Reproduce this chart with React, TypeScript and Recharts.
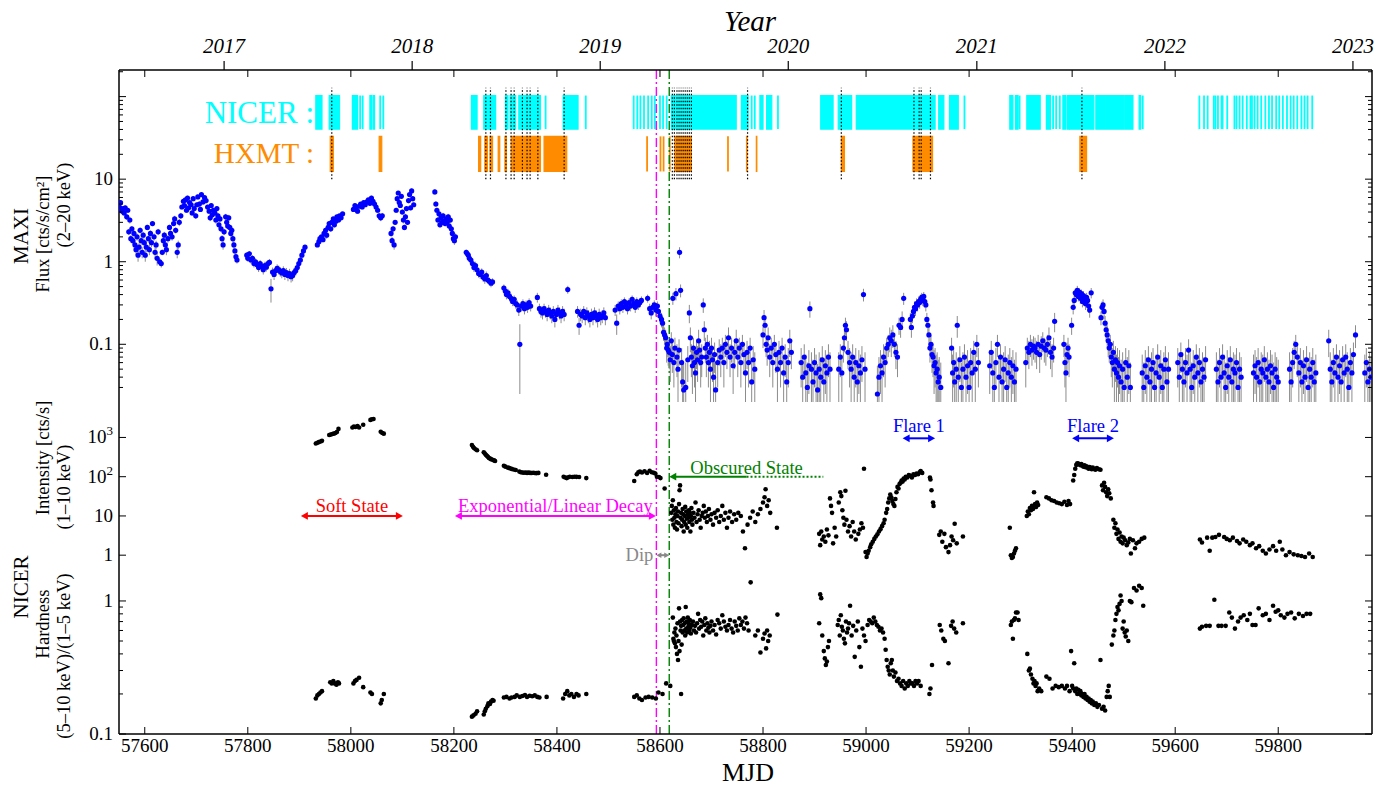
import React from "react";
import { ComposedChart, Scatter, XAxis, YAxis, ReferenceLine, ReferenceArea, ErrorBar } from "recharts";

const FONT = "'Liberation Serif', 'Times New Roman', serif";
const W = 1397;
const X_DOMAIN: [number, number] = [57550, 59982];
const MAGENTA = "#ff00ff";
const GREEN = "#008000";
const CYAN = "#00ffff";
const ORANGE = "#ff8c00";
const BLUE = "#0000ff";

// ---- axis ticks ----
const mjdTicks = [57600, 57800, 58000, 58200, 58400, 58600, 58800, 59000, 59200, 59400, 59600, 59800];
const yearMjd = [57754, 58119, 58484, 58849, 59215, 59580, 59945];
const yearNames = ["2017", "2018", "2019", "2020", "2021", "2022", "2023"];
const maxiTicks = [0.03, 0.04, 0.05, 0.06, 0.07, 0.08, 0.09, 0.1, 0.2, 0.3, 0.4, 0.5, 0.6, 0.7, 0.8, 0.9, 1, 2, 3, 4, 5, 6, 7, 8, 9, 10, 20, 30, 40, 50, 60, 70, 80, 90, 100, 200];
const maxiLabels: Record<string, string> = { "0.1": "0.1", "1": "1", "10": "10" };
const rateTicks = [1, 10, 100, 1000];
const hardTicks = [0.1, 0.2, 0.3, 0.4, 0.5, 0.6, 0.7, 0.8, 0.9, 1];
const hardLabels: Record<string, string> = { "0.1": "0.1", "1": "1" };

// ---- MAXI 2-20 keV flux [mjd, flux, err] ----
const maxiOutburst = [
  [57551,4.6,.3],[57553,5.2,.3],[57555,4.1,.3],[57558,4.4,.3],[57560,3.9,.3],[57562,4.5,.3],[57565,3.5,.3],[57567,4.2,.3],[57569,2.3,.2],[57571,3.2,.3],[57573,1.9,.2],[57575,2.5,.2],[57577,1.8,.2],[57579,2.2,.2],[57581,1.6,.2],[57583,1.4,.2],[57585,2.0,.2],[57587,1.2,.2],[57589,1.5,.2],[57591,2.4,.2],[57593,1.8,.2],[57595,1.3,.2],[57597,2.1,.2],[57599,1.7,.2],[57601,1.2,.2],[57603,1.5,.2],[57605,2.6,.2],[57607,1.9,.2],[57609,1.4,.2],[57611,2.2,.2],[57613,1.7,.2],[57615,2.9,.2],[57618,2.0,.2],[57620,1.3,.2],[57622,1.6,.2],[57624,1.1,.2],[57626,2.3,.2],[57629,1.0,.1],[57632,0.95,.1],[57634,1.3,.1],[57636,1.8,.2],[57638,2.1,.2],[57640,1.6,.2],[57642,1.4,.2],[57645,1.9,.2],[57648,2.6,.2],[57650,2.2,.2],[57653,2.0,.2],[57656,2.9,.2],[57658,3.3,.3],[57660,2.4,.2],[57663,1.3,.2],[57665,1.6,.2],[57667,3.0,.3],[57670,3.6,.3],[57672,4.6,.3],[57675,5.4,.4],[57677,4.8,.3],[57679,5.6,.4],[57681,4.2,.3],[57683,5.9,.4],[57685,4.5,.3],[57687,5.2,.4],[57690,4.9,.3],[57692,3.9,.3],[57694,5.8,.4],[57696,4.4,.3],[57699,3.6,.3],[57701,4.9,.3],[57703,6.1,.4],[57706,5.0,.4],[57708,4.3,.3],[57710,6.5,.4],[57713,5.3,.4],[57716,6.0,.4],[57719,5.5,.4],[57722,4.6,.3],[57725,4.1,.3],[57727,3.4,.3],[57729,4.8,.3],[57731,3.7,.3],[57733,4.2,.3],[57736,3.9,.3],[57738,3.2,.3],[57740,4.4,.3],[57742,3.6,.3],[57744,2.8,.2],[57746,3.3,.3],[57748,2.5,.2],[57750,1.9,.2],[57752,1.6,.2],[57754,2.3,.2],[57757,3.5,.3],[57759,3.0,.3],[57761,2.7,.2],[57763,3.4,.3],[57765,2.6,.2],[57767,2.2,.2],[57769,2.4,.2],[57771,1.9,.2],[57773,1.6,.2],[57775,1.35,.1],[57777,1.15,.1],[57779,1.05,.1],
  [57798,1.2,.1],[57800,1.1,.1],[57803,1.25,.1],[57806,1.05,.1],[57809,1.1,.1],[57812,0.95,.1],[57815,1.0,.1],[57818,0.92,.1],[57821,0.85,.1],[57824,0.95,.1],[57827,0.88,.1],[57830,0.8,.1],[57833,0.9,.1],[57836,0.86,.1],[57839,0.95,.1],[57842,0.98,.1],[57845,0.47,.15],[57848,0.75,.1],[57851,0.7,.1],[57854,0.78,.1],[57857,0.83,.1],[57860,0.8,.1],[57863,0.76,.1],[57866,0.73,.1],[57869,0.78,.1],[57872,0.7,.1],[57875,0.74,.1],[57878,0.68,.1],[57881,0.72,.1],[57884,0.66,.1],[57887,0.68,.1],[57890,0.74,.1],[57893,0.78,.1],[57896,0.85,.1],[57899,0.95,.1],[57902,1.05,.1],[57905,1.2,.1],[57908,1.35,.1],[57911,1.5,.1],
  [57935,1.6,.1],[57938,1.75,.1],[57940,1.9,.1],[57943,2.0,.1],[57946,1.85,.1],[57948,2.2,.2],[57951,2.4,.2],[57953,2.1,.2],[57956,2.6,.2],[57958,2.9,.2],[57961,2.5,.2],[57963,3.0,.2],[57966,3.3,.2],[57968,2.8,.2],[57971,3.1,.2],[57973,3.5,.2],[57976,3.2,.2],[57978,3.6,.2],[57981,3.4,.2],[57984,3.8,.2],
  [58005,4.3,.3],[58008,4.8,.3],[58010,4.5,.3],[58013,4.1,.3],[58016,4.7,.3],[58019,5.0,.3],[58022,4.6,.3],[58025,5.2,.3],[58028,4.9,.3],[58031,5.3,.3],[58034,5.6,.3],[58037,5.1,.3],[58040,5.9,.4],[58043,5.4,.3],[58046,5.0,.3],[58049,4.6,.3],[58052,4.2,.3],[58055,3.6,.3],[58058,3.4,.3],[58061,3.6,.3],
  [58078,2.2,.2],[58080,1.8,.2],[58082,2.5,.2],[58084,1.6,.2],[58086,3.0,.2],[58088,4.2,.3],[58090,5.8,.4],[58092,6.8,.4],[58094,5.2,.4],[58096,4.8,.3],[58098,6.2,.4],[58100,4.0,.3],[58102,3.2,.3],[58104,2.6,.2],[58106,3.5,.3],[58108,4.4,.3],[58110,3.0,.2],[58112,5.5,.4],[58114,6.5,.4],[58116,4.5,.3],[58118,7.2,.5],[58120,5.8,.4],[58122,4.9,.3],
  [58163,7.0,.5],[58165,5.0,.4],[58167,4.2,.3],[58169,3.2,.3],[58171,3.8,.3],[58173,2.8,.2],[58175,3.4,.3],[58177,3.0,.2],[58179,3.6,.3],[58181,3.1,.2],[58183,2.9,.2],[58185,3.3,.3],[58187,3.0,.2],[58189,3.5,.3],[58191,2.7,.2],[58193,3.2,.3],[58195,2.5,.2],[58197,2.2,.2],[58199,1.9,.2],[58201,1.8,.2],[58203,2.0,.2],
];
const maxiDecline = [
  [58224,1.3,.1],[58226,1.25,.1],[58228,1.2,.1],[58230,1.1,.1],[58233,1.05,.1],[58236,0.95,.1],[58239,0.85,.1],[58242,0.9,.1],[58245,0.8,.08],[58248,0.72,.08],[58251,0.7,.08],[58254,0.75,.08],[58257,0.65,.08],[58260,0.62,.08],[58263,0.68,.08],[58266,0.6,.06],[58269,0.58,.06],[58272,0.55,.06],[58275,0.57,.06],
  [58297,0.48,.05],[58300,0.44,.05],[58302,0.4,.05],[58305,0.42,.05],[58308,0.38,.05],[58311,0.36,.05],[58314,0.33,.04],[58317,0.35,.04],[58320,0.31,.04],[58323,0.3,.04],[58326,0.26,.04],[58328,0.1,.075],[58331,0.29,.04],[58334,0.31,.04],[58337,0.27,.04],[58340,0.3,.04],[58343,0.28,.04],[58346,0.32,.04],[58349,0.29,.04],
  [58362,0.37,.05],[58366,0.27,.04],[58369,0.25,.04],[58372,0.24,.04],[58375,0.27,.04],[58378,0.25,.04],[58381,0.23,.04],[58384,0.26,.04],[58387,0.24,.04],[58390,0.22,.04],[58393,0.25,.04],[58396,0.2,.04],[58399,0.23,.04],[58402,0.26,.04],[58405,0.24,.04],[58408,0.22,.04],[58411,0.25,.04],[58414,0.23,.04],[58421,0.46,.05],
  [58440,0.25,.04],[58443,0.17,.04],[58446,0.23,.04],[58449,0.22,.04],[58452,0.25,.04],[58455,0.21,.04],[58458,0.24,.04],[58461,0.22,.04],[58464,0.2,.04],[58467,0.23,.04],[58470,0.21,.04],[58473,0.24,.04],[58476,0.22,.04],[58479,0.2,.04],[58482,0.23,.04],[58485,0.21,.04],[58488,0.22,.04],[58491,0.24,.04],[58494,0.21,.04],
  [58513,0.26,.04],[58516,0.18,.05],[58519,0.29,.04],[58522,0.27,.04],[58525,0.31,.04],[58528,0.28,.04],[58531,0.33,.04],[58534,0.3,.04],[58537,0.27,.04],[58540,0.32,.04],[58543,0.29,.04],[58546,0.35,.04],[58549,0.31,.04],[58552,0.28,.04],[58555,0.33,.04],[58558,0.3,.04],[58561,0.32,.04],[58564,0.34,.04],
  [58576,0.36,.04],[58580,0.27,.04],[58583,0.24,.04],[58586,0.28,.04],[58589,0.3,.04],[58592,0.26,.04],[58595,0.29,.04],[58597,0.25,.04],[58600,0.22,.04],[58603,0.2,.04],[58605,0.18,.04],[58607,0.14,.03],[58609,0.13,.03],[58611,0.12,.03],[58613,0.09,.03],
];
const maxiObscured = [
  [58614,0.1,.03],[58616,0.085,.03],[58618,0.08,.03],[58620,0.065,.03],[58622,0.11,.03],[58624,0.075,.03],[58625,0.36,.06],[58627,0.06,.03],[58629,0.09,.03],[58631,0.41,.07],[58633,0.07,.03],[58635,0.05,.03],[58637,0.085,.03],[58638,1.3,.2],[58640,0.45,.08],[58642,0.06,.03],[58644,0.035,.03],[58646,0.028,.03],[58650,0.03,.03],[58654,0.065,.03],[58657,0.24,.06],[58659,0.12,.04],[58661,0.07,.03],[58663,0.055,.03],[58665,0.09,.03],[58667,0.06,.03],[58669,0.045,.03],[58671,0.08,.03],[58673,0.065,.03],[58675,0.11,.04],[58677,0.085,.03],[58679,0.06,.03],[58681,0.07,.03],[58684,0.3,.06],[58686,0.15,.04],[58688,0.09,.03],[58690,0.07,.03],[58692,0.1,.03],[58694,0.06,.03],[58696,0.08,.03],[58698,0.05,.03],[58700,0.09,.03],[58702,0.065,.03],[58704,0.04,.03],[58706,0.075,.03],[58708,0.028,.03],[58712,0.06,.03],[58715,0.085,.03],[58718,0.07,.03],[58721,0.09,.03],[58724,0.06,.03],[58727,0.1,.03],[58730,0.08,.03],[58733,0.12,.04],[58736,0.07,.03],[58739,0.09,.03],[58742,0.055,.03],[58745,0.08,.03],[58748,0.11,.04],[58751,0.07,.03],[58754,0.09,.03],[58757,0.06,.03],[58760,0.1,.03],[58763,0.075,.03],[58766,0.045,.03],[58769,0.08,.03],[58772,0.06,.03],[58775,0.09,.03],[58778,0.035,.03],[58781,0.065,.03],[58784,0.05,.03],
  [58800,0.13,.04],[58802,0.21,.05],[58804,0.17,.04],[58806,0.1,.03],[58808,0.085,.03],[58810,0.12,.04],[58813,0.07,.03],[58816,0.09,.03],[58819,0.06,.03],[58822,0.1,.03],[58825,0.075,.03],[58828,0.05,.03],[58831,0.08,.03],[58834,0.06,.03],[58837,0.09,.03],[58840,0.045,.03],[58843,0.07,.03],[58846,0.035,.03],[58849,0.06,.03],[58852,0.11,.04],[58855,0.08,.03],
  [58874,0.06,.03],[58877,0.04,.03],[58880,0.07,.03],[58883,0.045,.03],[58886,0.03,.03],[58889,0.055,.03],[58891,0.27,.06],[58894,0.05,.03],[58897,0.035,.03],[58900,0.06,.03],[58903,0.045,.03],[58906,0.028,.03],[58909,0.05,.03],[58912,0.04,.03],[58915,0.065,.03],[58918,0.035,.03],[58921,0.055,.03],[58924,0.045,.03],[58927,0.07,.03],[58930,0.05,.03],
  [58947,0.05,.03],[58950,0.07,.03],[58953,0.045,.03],[58956,0.09,.03],[58958,0.12,.04],[58960,0.17,.04],[58962,0.15,.04],[58965,0.08,.03],[58968,0.06,.03],[58971,0.05,.03],[58974,0.07,.03],[58977,0.04,.03],[58980,0.06,.03],[58983,0.035,.03],[58986,0.055,.03],[58989,0.045,.03],[58992,0.065,.03],[58995,0.4,.07],[58998,0.05,.03],
];
const maxiFlares = [
  [59022,0.025,.03],[59025,0.04,.03],[59028,0.055,.03],[59031,0.045,.03],[59034,0.07,.03],[59037,0.06,.03],[59040,0.09,.03],[59043,0.1,.03],[59046,0.12,.04],[59049,0.11,.04],[59052,0.13,.04],[59055,0.1,.03],[59058,0.08,.03],[59061,0.07,.03],[59064,0.17,.04],[59067,0.16,.04],[59070,0.2,.05],[59073,0.36,.06],
  [59086,0.2,.04],[59088,0.16,.04],[59090,0.22,.04],[59092,0.25,.04],[59094,0.28,.05],[59096,0.27,.05],[59098,0.31,.05],[59100,0.3,.05],[59102,0.33,.05],[59104,0.32,.05],[59106,0.35,.05],[59108,0.37,.05],[59110,0.34,.05],[59112,0.38,.05],[59114,0.33,.05],[59116,0.3,.05],[59118,0.2,.04],[59120,0.17,.04],[59122,0.13,.04],[59124,0.09,.03],[59126,0.1,.03],[59128,0.075,.03],[59130,0.07,.03],[59132,0.055,.03],[59134,0.06,.03],[59136,0.045,.03],[59138,0.05,.03],[59140,0.035,.03],[59142,0.04,.03],[59145,0.03,.03],
  [59166,0.09,.03],[59168,0.045,.03],[59170,0.06,.03],[59172,0.035,.03],[59175,0.05,.03],[59177,0.17,.05],[59179,0.04,.03],[59182,0.065,.03],[59185,0.03,.03],[59188,0.05,.03],[59191,0.07,.03],[59194,0.04,.03],[59197,0.055,.03],[59200,0.03,.03],[59203,0.06,.03],[59206,0.045,.03],[59209,0.08,.03],[59212,0.05,.03],[59215,0.1,.03],[59218,0.06,.03],
  [59240,0.055,.03],[59243,0.08,.03],[59246,0.045,.03],[59249,0.03,.03],[59252,0.06,.03],[59255,0.1,.03],[59258,0.04,.03],[59261,0.07,.03],[59264,0.035,.03],[59267,0.05,.03],[59270,0.065,.03],[59273,0.03,.03],[59276,0.045,.03],[59279,0.06,.03],[59282,0.04,.03],[59285,0.055,.03],[59288,0.035,.03],[59291,0.05,.03],
  [59310,0.06,.03],[59313,0.09,.03],[59316,0.08,.03],[59319,0.1,.03],[59322,0.085,.03],[59325,0.095,.03],[59328,0.09,.03],[59331,0.08,.03],[59334,0.1,.03],[59337,0.075,.03],[59340,0.095,.03],[59343,0.11,.03],[59346,0.09,.03],[59349,0.085,.03],[59352,0.1,.03],[59355,0.12,.04],[59358,0.08,.03],[59361,0.07,.03],[59364,0.09,.03],[59366,0.19,.05],
  [59384,0.1,.03],[59386,0.06,.03],[59388,0.045,.03],[59390,0.075,.03],[59392,0.09,.03],[59394,0.07,.03],[59399,0.17,.04],[59402,0.28,.05],[59404,0.34,.05],[59406,0.42,.05],[59408,0.4,.05],[59410,0.45,.06],[59412,0.38,.05],[59414,0.43,.05],[59416,0.36,.05],[59418,0.41,.05],[59420,0.33,.05],[59422,0.39,.05],[59424,0.35,.05],[59426,0.31,.05],[59428,0.37,.05],[59430,0.34,.05],[59432,0.29,.05],[59434,0.26,.05],[59437,0.42,.06],
  [59456,0.21,.04],[59458,0.28,.05],[59460,0.3,.05],[59462,0.25,.05],[59464,0.18,.04],[59466,0.15,.04],[59468,0.13,.04],[59470,0.11,.04],[59472,0.09,.03],[59474,0.1,.03],[59476,0.07,.03],[59478,0.06,.03],[59480,0.08,.03],[59482,0.05,.03],[59484,0.065,.03],[59486,0.045,.03],[59488,0.06,.03],[59490,0.04,.03],[59492,0.055,.03],[59495,0.035,.03],[59498,0.05,.03],[59501,0.03,.03],[59504,0.06,.03],[59507,0.04,.03],[59510,0.055,.03],[59513,0.03,.03],
];
const maxiLate = [
  [59536,0.045,.03],[59539,0.03,.03],[59542,0.055,.03],[59545,0.04,.03],[59548,0.065,.03],[59551,0.035,.03],[59554,0.05,.03],[59557,0.06,.03],[59560,0.03,.03],[59563,0.045,.03],[59566,0.07,.03],[59569,0.04,.03],[59572,0.055,.03],[59575,0.03,.03],[59578,0.05,.03],[59581,0.065,.03],[59584,0.035,.03],[59587,0.05,.03],
  [59605,0.06,.03],[59608,0.04,.03],[59611,0.075,.03],[59614,0.05,.03],[59617,0.035,.03],[59620,0.06,.03],[59623,0.045,.03],[59626,0.085,.03],[59629,0.05,.03],[59632,0.03,.03],[59635,0.055,.03],[59638,0.04,.03],[59641,0.07,.03],[59644,0.045,.03],[59647,0.06,.03],[59650,0.035,.03],[59653,0.05,.03],[59656,0.04,.03],[59659,0.065,.03],
  [59680,0.05,.03],[59683,0.035,.03],[59686,0.06,.03],[59689,0.04,.03],[59692,0.07,.03],[59695,0.045,.03],[59698,0.03,.03],[59701,0.055,.03],[59704,0.04,.03],[59707,0.065,.03],[59710,0.035,.03],[59713,0.05,.03],[59716,0.045,.03],[59719,0.06,.03],[59722,0.03,.03],[59725,0.05,.03],[59728,0.04,.03],
  [59752,0.045,.03],[59755,0.055,.03],[59758,0.04,.03],[59761,0.06,.03],[59764,0.035,.03],[59767,0.05,.03],[59770,0.045,.03],[59773,0.065,.03],[59776,0.04,.03],[59779,0.05,.03],[59782,0.035,.03],[59785,0.055,.03],[59788,0.045,.03],[59791,0.03,.03],[59794,0.05,.03],[59797,0.04,.03],[59800,0.035,.03],
  [59822,0.05,.03],[59825,0.035,.03],[59828,0.06,.03],[59831,0.08,.03],[59834,0.1,.03],[59837,0.07,.03],[59840,0.045,.03],[59843,0.06,.03],[59846,0.035,.03],[59849,0.055,.03],[59852,0.04,.03],[59855,0.065,.03],[59858,0.03,.03],[59861,0.05,.03],[59864,0.04,.03],[59867,0.06,.03],[59870,0.035,.03],[59873,0.045,.03],
  [59898,0.11,.04],[59901,0.05,.03],[59904,0.035,.03],[59907,0.06,.03],[59910,0.045,.03],[59913,0.07,.03],[59916,0.04,.03],[59919,0.055,.03],[59922,0.035,.03],[59925,0.065,.03],[59928,0.045,.03],[59931,0.07,.03],[59934,0.05,.03],[59937,0.03,.03],[59940,0.06,.03],[59943,0.045,.03],[59946,0.075,.03],[59950,0.13,.04],
  [59968,0.045,.03],[59971,0.06,.03],[59974,0.035,.03],[59977,0.05,.03],[59980,0.04,.03],
];

// ---- NICER 1-10 keV rate [mjd, cts/s] ----
const rateSoft = [[57932,700],[57935,730],[57938,760],[57941,790],[57944,820],[57958,1150],[57961,1180],[57964,1220],[57967,1250],[57970,1300],[57973,1380],[57976,1650],[58003,1800],[58006,1900],[58009,1850],[58013,1950],[58016,1800],[58024,2100],[58038,2800],[58041,2900],[58044,2950],[58058,1400],[58061,1300],[58064,1250]];
const rateDecay = [[58235,640],[58237,580],[58239,540],[58242,500],[58245,470],[58258,420],[58260,390],[58262,360],[58264,340],[58266,320],[58268,300],[58270,290],[58272,280],[58275,270],[58278,260],[58280,250],[58297,190],[58300,180],[58305,170],[58308,165],[58312,158],[58316,152],[58320,148],[58327,135],[58330,130],[58333,128],[58336,126],[58339,128],[58342,125],[58345,127],[58348,125],[58351,124],[58354,126],[58357,124],[58360,123],[58364,125],[58379,112],[58413,100],[58416,95],[58419,92],[58422,97],[58425,100],[58430,98],[58434,100],[58438,99],[58443,98],[58457,92],[58550,78],[58555,115],[58558,130],[58561,135],[58565,128],[58570,138],[58575,125],[58580,142],[58584,130],[58588,126],[58591,120],[58594,100],[58598,98],[58601,92],[58609,50]];
const rateObscured = [[58622,12],[58623,18],[58624,8],[58625,25],[58626,6],[58627,14],[58628,9],[58629,5],[58630,11],[58631,16],[58632,7],[58633,4.5],[58634,10],[58635,13],[58636,6.5],[58637,20],[58638,45],[58639,60],[58640,9],[58641,12],[58642,5.5],[58643,8],[58644,15],[58645,11],[58646,4],[58647,7],[58648,10],[58649,17],[58650,6],[58651,13],[58652,8.5],[58653,5],[58654,11],[58655,9],[58656,14],[58657,7],[58658,12],[58659,4],[58660,10],[58661,16],[58662,8],[58663,6],[58665,12],[58667,9],[58669,22],[58671,7],[58673,11],[58675,14],[58677,8],[58679,5],[58681,10],[58683,12],[58685,18],[58687,9],[58689,13],[58691,7],[58693,10],[58695,15],[58698,8],[58700,11],[58703,6],[58706,12],[58709,9],[58712,14],[58715,7],[58718,10],[58721,18],[58724,8],[58727,12],[58730,5],[58733,9],[58736,13],[58740,7],[58744,11],[58748,8],[58752,12],[58757,10],[58761,4],[58765,1.5],[58770,6],[58775,9],[58780,13],[58785,7],[58790,11],[58795,15],[58800,22],[58803,30],[58805,48],[58808,18],[58811,25],[58814,12],[58827,5],
  [58909,3.5],[58911,1.8],[58913,4],[58915,2.5],[58918,3],[58921,2.2],[58924,4.5],[58927,3.2],[58930,28],[58932,18],[58934,12],[58936,2],[58939,5],[58942,3],[58947,22],[58950,40],[58952,32],[58954,14],[58956,9],[58958,6],[58960,44],[58962,8],[58965,4],[58968,5.5],[58971,3],[58974,7],[58977,4],[58980,2.5],[58985,3.5],[58988,4.5],[58991,6.5],[58994,5],[58996,160],[58999,1.2],[59001,0.9],[59003,1.1]];
const rateFlares = [[59005,1.3],[59008,1.6],[59010,1.9],[59013,2.2],[59016,2.6],[59019,3],[59022,3.4],[59025,4],[59028,4.6],[59031,5.5],[59034,6.5],[59036,8],[59039,12],[59041,15],[59043,22],[59045,28],[59047,35],[59049,30],[59051,24],[59053,20],[59055,18],[59057,27],[59059,40],[59061,55],[59063,50],[59065,65],[59067,70],[59069,80],[59071,75],[59073,90],[59075,85],[59077,100],[59080,95],[59083,110],[59086,105],[59089,95],[59092,115],[59095,110],[59098,120],[59101,115],[59104,130],[59106,140],[59109,125],[59124,95],[59125,85],[59127,45],[59130,22],[59131,18],
  [59142,3.3],[59145,4],[59148,2.2],[59152,3.5],[59155,1.6],[59160,1.2],[59163,1.8],[59166,3],[59169,2.4],[59172,6.3],[59176,2],[59188,3],
  [59279,5],[59281,1],[59283,0.85],[59285,0.9],[59287,1.1],[59289,1.3],[59291,1.5],[59312,10],[59314,13],[59316,11],[59318,16],[59320,14],[59322,18],[59324,15],[59326,40],[59328,20],[59330,17],[59332,22],[59334,19],[59350,30],[59355,28],[59360,25],[59365,24],[59370,22],[59375,21],[59380,20],[59385,23],[59390,19],[59393,24],[59396,20],[59402,80],[59404,110],[59406,160],[59408,200],[59410,220],[59412,215],[59414,205],[59416,195],[59418,210],[59420,190],[59422,180],[59424,195],[59426,175],[59428,185],[59430,170],[59432,160],[59434,175],[59436,165],[59438,155],[59440,170],[59442,160],[59445,150],[59448,165],[59452,155],[59455,150],[59458,60],[59460,45],[59462,70],[59464,55],[59466,40],[59468,32],[59470,48],[59472,38],[59475,28],
  [59480,8],[59482,5],[59484,6.5],[59486,3.5],[59488,4.5],[59490,2.6],[59492,3.8],[59494,2.2],[59496,3],[59498,2],[59500,2.8],[59503,2.4],[59506,1.8],[59509,2.1],[59512,2.6],[59514,1.1],[59518,2.4],[59522,1.5],[59525,2],[59530,2.2],[59535,2.6],[59540,2.8]];
const rateLate = [[59648,2.5],[59652,2.1],[59662,2.8],[59667,1.3],[59672,2.8],[59678,2.9],[59685,3.3],[59695,2.9],[59700,2.6],[59706,2.4],[59712,2.8],[59720,2.3],[59725,2.0],[59732,2.5],[59738,2.2],[59745,1.8],[59750,2.0],[59757,1.5],[59763,1.7],[59770,1.3],[59776,1.1],[59783,1.4],[59790,1.7],[59796,1.3],[59803,2.2],[59808,1.4],[59815,1.0],[59822,1.2],[59830,1.05],[59838,1.0],[59845,0.95],[59852,0.9],[59860,1.1],[59867,0.9]];

// ---- NICER hardness (5-10 keV)/(1-5 keV) [mjd, ratio] ----
const hardSoft = [[57932,0.185],[57935,0.195],[57938,0.2],[57941,0.205],[57944,0.21],[57960,0.245],[57963,0.24],[57966,0.25],[57969,0.24],[57972,0.235],[57975,0.245],[57977,0.24],[58005,0.24],[58008,0.25],[58011,0.255],[58016,0.265],[58024,0.225],[58038,0.205],[58041,0.2],[58058,0.17],[58060,0.18],[58064,0.2],
  [58235,0.135],[58238,0.138],[58242,0.142],[58245,0.148],[58258,0.14],[58260,0.148],[58262,0.155],[58265,0.162],[58267,0.17],[58270,0.168],[58272,0.175],[58275,0.18],[58277,0.178],[58297,0.188],[58302,0.19],[58308,0.185],[58312,0.188],[58318,0.19],[58322,0.195],[58328,0.19],[58333,0.193],[58338,0.196],[58342,0.19],[58347,0.194],[58352,0.192],[58357,0.195],[58362,0.19],[58366,0.188],[58380,0.19],[58412,0.185],[58416,0.2],[58420,0.21],[58424,0.195],[58428,0.2],[58433,0.19],[58438,0.2],[58442,0.195],[58457,0.2],
  [58550,0.19],[58555,0.195],[58560,0.185],[58565,0.18],[58572,0.188],[58578,0.19],[58585,0.188],[58592,0.185],[58597,0.205],[58605,0.2],[58612,0.24],[58620,0.23],[58641,0.2]];
const hardObscured = [[58625,0.75],[58626,0.52],[58627,0.5],[58628,0.58],[58629,0.48],[58630,0.62],[58631,0.45],[58632,0.55],[58633,0.4],[58634,0.68],[58635,0.36],[58636,0.5],[58637,0.88],[58638,0.42],[58639,0.7],[58640,0.6],[58641,0.65],[58642,0.47],[58643,0.72],[58644,0.58],[58645,0.66],[58646,0.74],[58647,0.6],[58648,0.68],[58649,0.55],[58650,0.9],[58651,0.62],[58652,0.7],[58653,0.58],[58654,0.75],[58655,0.64],[58656,0.68],[58657,0.6],[58658,0.72],[58659,0.63],[58660,0.57],[58662,0.66],[58664,0.7],[58666,0.6],[58668,0.65],[58670,0.58],[58672,0.68],[58674,0.8],[58676,0.62],[58678,0.72],[58680,0.64],[58682,0.7],[58684,0.55],[58686,0.66],[58688,0.74],[58690,0.6],[58692,0.68],[58694,0.63],[58696,0.58],[58698,0.65],[58700,0.7],[58703,0.6],[58706,0.66],[58709,0.56],[58712,0.72],[58715,0.68],[58718,0.62],[58721,0.78],[58724,0.7],[58727,0.64],[58730,0.6],[58733,0.66],[58736,0.72],[58739,0.62],[58742,0.58],[58745,0.7],[58748,0.65],[58751,0.6],[58754,0.74],[58757,0.66],[58760,0.7],[58763,0.62],[58766,0.75],[58769,0.68],[58772,0.6],[58776,1.38],[58785,0.55],[58790,0.6],[58795,0.41],[58800,0.52],[58803,0.57],[58806,0.44],[58808,0.6],[58810,0.5],[58813,0.55],[58828,0.79],
  [58909,0.68],[58911,1.12],[58913,1.05],[58915,0.55],[58918,0.42],[58920,0.37],[58922,0.33],[58924,0.35],[58926,0.45],[58928,0.5],[58945,0.66],[58947,0.72],[58949,0.55],[58951,0.78],[58953,0.64],[58955,0.6],[58957,0.52],[58959,0.48],[58961,0.7],[58963,0.58],[58965,0.62],[58967,0.68],[58969,0.92],[58972,0.55],[58975,0.65],[58978,0.38],[58981,0.6],[58984,0.7],[58987,0.45],[58990,0.32],[58993,0.62],[58996,0.55],[58999,0.5]];
const hardFlares = [[59003,0.66],[59006,0.72],[59009,0.7],[59012,0.68],[59015,0.75],[59018,0.7],[59021,0.66],[59024,0.64],[59027,0.6],[59030,0.62],[59033,0.58],[59036,0.52],[59038,0.43],[59040,0.36],[59042,0.32],[59044,0.3],[59046,0.28],[59048,0.34],[59050,0.36],[59052,0.3],[59054,0.27],[59057,0.29],[59060,0.25],[59063,0.26],[59066,0.24],[59069,0.23],[59072,0.25],[59075,0.22],[59078,0.24],[59081,0.23],[59084,0.25],[59087,0.24],[59090,0.24],[59093,0.23],[59096,0.25],[59099,0.24],[59102,0.25],[59106,0.23],[59123,0.2],[59125,0.22],[59128,0.33],[59143,0.66],[59146,0.6],[59150,0.52],[59153,0.5],[59160,0.34],[59165,0.65],[59168,0.7],[59171,0.62],[59175,0.58],[59188,0.68],
  [59281,0.66],[59283,0.7],[59285,0.52],[59287,0.72],[59289,0.74],[59291,0.82],[59294,0.82],[59296,0.72],[59313,0.4],[59316,0.3],[59318,0.31],[59320,0.28],[59323,0.26],[59325,0.24],[59327,0.25],[59329,0.23],[59331,0.24],[59333,0.21],[59336,0.22],[59340,0.21],[59350,0.27],[59356,0.26],[59362,0.22],[59368,0.23],[59374,0.225],[59380,0.23],[59386,0.22],[59390,0.23],[59395,0.21],[59398,0.42],[59400,0.23],[59402,0.22],[59404,0.34],[59406,0.21],[59408,0.22],[59410,0.2],[59412,0.215],[59414,0.2],[59416,0.21],[59418,0.195],[59420,0.2],[59422,0.19],[59424,0.2],[59426,0.185],[59428,0.19],[59430,0.18],[59432,0.185],[59434,0.175],[59436,0.18],[59438,0.17],[59440,0.175],[59443,0.165],[59446,0.17],[59449,0.16],[59452,0.165],[59455,0.36],[59458,0.155],[59461,0.16],[59464,0.15],[59467,0.19],[59469,0.21],[59471,0.23],[59473,0.19],[59477,0.47],[59480,0.55],[59482,0.6],[59484,0.72],[59486,0.8],[59488,0.9],[59490,0.85],[59492,0.95],[59494,1.1],[59496,1.0],[59498,0.62],[59500,0.7],[59502,0.58],[59504,0.54],[59506,0.6],[59509,0.5],[59512,1.0],[59515,0.98],[59520,1.25],[59525,1.2],[59530,1.3],[59535,1.25],[59538,0.92]];
const hardLate = [[59648,0.62],[59652,0.64],[59660,0.65],[59667,0.65],[59676,1.02],[59684,0.65],[59690,0.65],[59698,0.65],[59705,0.82],[59710,0.75],[59716,0.62],[59722,0.7],[59727,0.75],[59733,0.78],[59740,0.72],[59745,0.8],[59750,0.66],[59756,0.66],[59762,0.88],[59770,0.78],[59776,0.8],[59783,0.72],[59790,0.92],[59795,0.83],[59800,0.85],[59805,0.78],[59812,0.75],[59818,0.8],[59825,0.82],[59832,0.74],[59840,0.8],[59848,0.77],[59855,0.8],[59862,0.8]];

// ---- observation windows [start, end] (MJD) ----
const nicerObs = [[57932,57944],[57958,57978],[58003,58013],[58018,58018],[58023,58023],[58037,58040],[58043,58046],[58057,58057],[58063,58063],
  [58234,58245],[58258,58281],[58300,58305],[58309,58320],[58326,58368],[58378,58378],[58412,58441],[58456,58456],
  [58549,58549],[58556,58556],[58562,58562],[58569,58569],[58577,58577],[58584,58584],[58590,58590],[58600,58600],[58606,58606],[58613,58613],
  [58622,58748],[58758,58771],[58778,58778],[58784,58784],[58794,58800],[58807,58817],[58829,58829],
  [58912,58936],[58946,58972],[58981,59134],[59141,59151],[59162,59179],[59191,59191],
  [59279,59285],[59290,59295],[59298,59298],[59312,59323],[59325,59338],[59350,59358],[59363,59363],[59369,59369],[59376,59376],[59382,59387],[59390,59394],[59395,59442],[59446,59463],[59465,59500],[59502,59518],[59530,59533],[59537,59537],
  [59647,59647],[59656,59656],[59663,59663],[59675,59675],[59678,59678],[59683,59683],[59690,59690],[59692,59692],[59701,59701],[59715,59715],[59719,59719],[59725,59725],[59731,59731],[59739,59739],[59746,59746],[59749,59749],[59754,59754],[59760,59760],[59767,59767],[59775,59775],[59782,59782],[59788,59788],[59796,59796],[59802,59802],[59809,59809],[59817,59817],[59824,59824],[59830,59830],[59837,59837],[59845,59845],[59851,59851],[59857,59857],[59866,59866]];
const hxmtObs = [[57960,57966],[58055,58060],[58248,58252],[58260,58265],[58270,58275],[58286,58289],[58299,58302],[58311,58368],[58375,58419],[58575,58575],[58601,58601],[58607,58607],[58619,58619],[58629,58661],[58732,58732],[58768,58769],[58787,58788],[58952,58958],[59091,59129],[59415,59428]];
const jointObs = [57963, 58262, 58271, 58301, 58311, 58317, 58333, 58342, 58348, 58363, 58414, 58624, 58628, 58633, 58637, 58641, 58645, 58649, 58653, 58657, 58661, 58770, 58952, 59093, 59103, 59107, 59125, 59419];

// state boundaries
const dipStart = 58593;
const obscuredStart = 58618;

type Pt = { x: number; y: number; e?: [number, number] };
const toPts = (rows: number[][]): Pt[] => rows.map((r) => ({ x: r[0], y: r[1] }));
const toErrPts = (rows: number[][], floor: number): Pt[] =>
  rows.map((r) => ({ x: r[0], y: r[1], e: [Math.min(r[2], r[1] - floor), r[2]] }));

const maxiPts = toErrPts([...maxiOutburst, ...maxiDecline, ...maxiObscured, ...maxiFlares, ...maxiLate], 0.02);
const ratePts = toPts([...rateSoft, ...rateDecay, ...rateObscured, ...rateFlares, ...rateLate]);
const hardPts = toPts([...hardSoft, ...hardObscured, ...hardFlares, ...hardLate]);

const isMajor = (v: number) => Math.abs(Math.log10(v) - Math.round(Math.log10(v))) < 1e-6;

// ---- ticks ----
const bottomTick = (withLabels: boolean) => (p: any) => {
  const { x, y, payload } = p;
  return (
    <g>
      <line x1={x} x2={x} y1={y} y2={y - 7} stroke="#000" strokeWidth={1} />
      {withLabels && (
        <text x={x} y={y + 18} textAnchor="middle" fontFamily={FONT} fontSize={19} fill="#000">
          {payload.value}
        </text>
      )}
    </g>
  );
};
const topTick = (withYears: boolean) => (p: any) => {
  const { x, y, payload } = p;
  const yi = withYears ? yearMjd.indexOf(payload.value) : -1;
  if (yi >= 0) {
    return (
      <g>
        <line x1={x} x2={x} y1={y} y2={y - 9} stroke="#000" strokeWidth={1.2} />
        <text x={x} y={y - 17} textAnchor="middle" fontFamily={FONT} fontStyle="italic" fontSize={21} fill="#000">
          {yearNames[yi]}
        </text>
      </g>
    );
  }
  return <line x1={x} x2={x} y1={y} y2={y + 7} stroke="#000" strokeWidth={1} />;
};
const leftTick = (labels: Record<string, React.ReactNode>) => (p: any) => {
  const { x, y, payload } = p;
  const v = payload.value;
  const major = isMajor(v);
  const lab = labels[String(v)];
  return (
    <g>
      <line x1={x} x2={x + (major ? 7 : 4)} y1={y} y2={y} stroke="#000" strokeWidth={1} />
      {lab && (
        <text x={x - 6} y={y + 6} textAnchor="end" fontFamily={FONT} fontSize={19} fill="#000">
          {lab}
        </text>
      )}
    </g>
  );
};
const rightTick = (p: any) => {
  const { x, y, payload } = p;
  return <line x1={x} x2={x - (isMajor(payload.value) ? 7 : 4)} y1={y} y2={y} stroke="#000" strokeWidth={1} />;
};

const pow10 = (n: string) => (
  <>
    10<tspan dy={-8} fontSize={13}>{n}</tspan>
  </>
);
const rateLabels: Record<string, React.ReactNode> = { "1": "1", "10": "10", "100": pow10("2"), "1000": pow10("3") };

const dot = (color: string, r: number) => (p: any) => <circle cx={p.cx} cy={p.cy} r={r} fill={color} />;

// ---- annotation arrows (drawn through ReferenceLine segments) ----
type ArrowOpts = { text?: string; textAt?: "mid" | "end" | "left"; heads: "both" | "left" | "none"; dash?: string; head?: number; dy?: number };
const arrowShape = (color: string, o: ArrowOpts) => (p: any) => {
  const { x1, y1, x2 } = p;
  const xa = Math.min(x1, x2);
  const xb = Math.max(x1, x2);
  const y = y1;
  const h = o.head ?? 7;
  const w = h * 0.55;
  const tx = o.textAt === "end" ? xb : o.textAt === "left" ? xa - 3 : (xa + xb) / 2;
  return (
    <g>
      <line x1={o.heads === "none" ? xa : xa + h * 0.6} x2={o.heads === "both" ? xb - h * 0.6 : xb} y1={y} y2={y} stroke={color} strokeWidth={2} strokeDasharray={o.dash} />
      {o.heads !== "none" && <path d={`M${xa},${y} L${xa + h},${y - w} L${xa + h},${y + w} Z`} fill={color} />}
      {o.heads === "both" && <path d={`M${xb},${y} L${xb - h},${y - w} L${xb - h},${y + w} Z`} fill={color} />}
      {o.text && (
        <text x={tx} y={y + (o.dy ?? -4)} textAnchor={o.textAt === "left" ? "end" : "middle"} fontFamily={FONT} fontSize={18.5} fill={color}>
          {o.text}
        </text>
      )}
    </g>
  );
};

const stateLines = (yId: string) => [
  <ReferenceLine key="m" x={dipStart} xAxisId="b" yAxisId={yId} stroke={MAGENTA} strokeWidth={1.4} strokeDasharray="9 3 2 3" />,
  <ReferenceLine key="g" x={obscuredStart} xAxisId="b" yAxisId={yId} stroke={GREEN} strokeWidth={1.4} strokeDasharray="9 3 2 3" />,
];

const obsMarks = (rows: number[][], lo: number, hi: number, color: string, key: string) =>
  rows.map((r, i) =>
    r[0] === r[1] ? (
      <ReferenceLine key={key + i} xAxisId="b" yAxisId="l" segment={[{ x: r[0], y: lo }, { x: r[0], y: hi }]} stroke={color} strokeWidth={1.8} />
    ) : (
      <ReferenceArea key={key + i} xAxisId="b" yAxisId="l" x1={r[0]} x2={r[1]} y1={lo} y2={hi} fill={color} fillOpacity={1} stroke={color} strokeWidth={1.2} />
    )
  );

const frame = { stroke: "#000", strokeWidth: 1.5 };

function axes(opts: { topH: number; bottomH: number; years?: boolean; xLabels?: boolean; yDomain: [number, number]; yTicks: number[]; yLabels: Record<string, React.ReactNode> }) {
  return [
    <XAxis key="xb" xAxisId="b" dataKey="x" type="number" orientation="bottom" domain={X_DOMAIN} allowDataOverflow ticks={mjdTicks} interval={0} height={opts.bottomH} tickSize={0} tickMargin={0} axisLine={frame} tickLine={false} tick={bottomTick(!!opts.xLabels)} />,
    <XAxis key="xt" xAxisId="t" dataKey="x" type="number" orientation="top" domain={X_DOMAIN} allowDataOverflow ticks={opts.years ? [...mjdTicks, ...yearMjd].sort((a, b) => a - b) : mjdTicks} interval={0} height={opts.topH} tickSize={0} tickMargin={0} axisLine={frame} tickLine={false} tick={topTick(!!opts.years)} />,
    <YAxis key="yl" yAxisId="l" dataKey="y" type="number" scale="log" domain={opts.yDomain} allowDataOverflow ticks={opts.yTicks} interval={0} width={119} tickSize={0} tickMargin={0} axisLine={frame} tickLine={false} tick={leftTick(opts.yLabels)} />,
    <YAxis key="yr" yAxisId="r" orientation="right" type="number" scale="log" domain={opts.yDomain} allowDataOverflow ticks={opts.yTicks} interval={0} width={25} tickSize={0} tickMargin={0} axisLine={frame} tickLine={false} tick={rightTick} />,
  ];
}

const vText = (x: number, y: number, text: React.ReactNode, size: number) => (
  <text x={x} y={y} transform={`rotate(-90 ${x} ${y})`} textAnchor="middle" dominantBaseline="central" fontFamily={FONT} fontSize={size} fill="#000">
    {text}
  </text>
);

export default function App() {
  const margin = { top: 0, right: 0, bottom: 0, left: 0 };
  return (
    <div style={{ position: "absolute", left: 0, top: 0, width: W, height: 787, background: "#fff" }}>
      {/* MAXI panel */}
      <div style={{ position: "absolute", left: 0, top: 0 }}>
        <ComposedChart width={W} height={402} margin={margin}>
          {axes({ topH: 70, bottomH: 0, years: true, yDomain: [0.02, 210], yTicks: maxiTicks, yLabels: maxiLabels })}
          {obsMarks(nicerObs, 40.4, 103, CYAN, "n")}
          {obsMarks(hxmtObs, 12.4, 33, ORANGE, "h")}
          {jointObs.map((m, i) => (
            <ReferenceLine key={"j" + i} xAxisId="b" yAxisId="l" segment={[{ x: m, y: 10 }, { x: m, y: 128 }]} stroke="#000" strokeWidth={1.2} strokeDasharray="1.5 2" />
          ))}
          {stateLines("l")}
          <Scatter data={maxiPts} dataKey="y" xAxisId="b" yAxisId="l" isAnimationActive={false} shape={dot(BLUE, 2.6)}>
            <ErrorBar dataKey="e" direction="y" width={0} stroke="#8c8c8c" strokeWidth={1} isAnimationActive={false} />
          </Scatter>
        </ComposedChart>
      </div>

      {/* NICER intensity panel */}
      <div style={{ position: "absolute", left: 0, top: 402 }}>
        <ComposedChart width={W} height={165} margin={margin}>
          {axes({ topH: 0, bottomH: 0, yDomain: [0.5, 8000], yTicks: rateTicks, yLabels: rateLabels })}
          {stateLines("l")}
          <ReferenceLine xAxisId="b" yAxisId="l" segment={[{ x: 57903, y: 10 }, { x: 58101, y: 10 }]} shape={arrowShape("#ff0000", { text: "Soft State", heads: "both" })} />
          <ReferenceLine xAxisId="b" yAxisId="l" segment={[{ x: 58202, y: 10 }, { x: 58592, y: 10 }]} shape={arrowShape(MAGENTA, { text: "Exponential/Linear Decay", heads: "both" })} />
          <ReferenceLine xAxisId="b" yAxisId="l" segment={[{ x: dipStart, y: 1 }, { x: obscuredStart, y: 1 }]} shape={arrowShape("#888888", { text: "Dip", heads: "both", textAt: "left", head: 5, dy: 6 })} />
          <ReferenceLine xAxisId="b" yAxisId="l" segment={[{ x: obscuredStart, y: 100 }, { x: 58768, y: 100 }]} shape={arrowShape(GREEN, { text: "Obscured State", heads: "left", textAt: "end", dy: -3 })} />
          <ReferenceLine xAxisId="b" yAxisId="l" segment={[{ x: 58768, y: 100 }, { x: 58917, y: 100 }]} shape={arrowShape(GREEN, { heads: "none", dash: "2 2" })} />
          <ReferenceLine xAxisId="b" yAxisId="l" segment={[{ x: 59071, y: 950 }, { x: 59134, y: 950 }]} shape={arrowShape(BLUE, { text: "Flare 1", heads: "both", dy: -6 })} />
          <ReferenceLine xAxisId="b" yAxisId="l" segment={[{ x: 59400, y: 950 }, { x: 59481, y: 950 }]} shape={arrowShape(BLUE, { text: "Flare 2", heads: "both", dy: -6 })} />
          <Scatter data={ratePts} dataKey="y" xAxisId="b" yAxisId="l" isAnimationActive={false} shape={dot("#000", 2.3)} />
        </ComposedChart>
      </div>

      {/* NICER hardness panel */}
      <div style={{ position: "absolute", left: 0, top: 567 }}>
        <ComposedChart width={W} height={220} margin={margin}>
          {axes({ topH: 0, bottomH: 53, xLabels: true, yDomain: [0.1, 1.8], yTicks: hardTicks, yLabels: hardLabels })}
          {stateLines("l")}
          <Scatter data={hardPts} dataKey="y" xAxisId="b" yAxisId="l" isAnimationActive={false} shape={dot("#000", 2.3)} />
        </ComposedChart>
      </div>

      {/* titles and labels */}
      <svg width={W} height={787} style={{ position: "absolute", left: 0, top: 0, pointerEvents: "none" }}>
        <text x={750} y={31} textAnchor="middle" fontFamily={FONT} fontStyle="italic" fontSize={29} fill="#000">Year</text>
        <text x={748} y={781} textAnchor="middle" fontFamily={FONT} fontSize={26} fill="#000">MJD</text>
        <text x={314} y={123} textAnchor="end" fontFamily={FONT} fontSize={31} fill={CYAN}>NICER :</text>
        <text x={314} y={163} textAnchor="end" fontFamily={FONT} fontSize={29} fill={ORANGE}>HXMT :</text>
        {vText(21, 236, "MAXI", 21)}
        {vText(43, 234, "Flux [cts/s/cm²]", 18.5)}
        {vText(64, 205, "(2–20 keV)", 18.5)}
        {vText(43, 458, "Intensity [cts/s]", 18.5)}
        {vText(64, 487, "(1–10 keV)", 18.5)}
        {vText(21, 587, "NICER", 21)}
        {vText(43, 624, "Hardness", 18.5)}
        {vText(64, 656, "(5–10 keV)/(1–5 keV)", 18.5)}
      </svg>
    </div>
  );
}
